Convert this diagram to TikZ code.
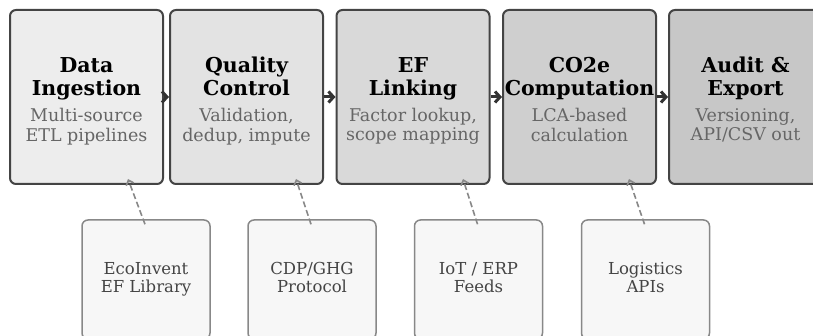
\documentclass[tikz,border=0pt]{standalone}
\usepackage{fontspec}
\setmainfont{DejaVu Serif}
\usetikzlibrary{arrows.meta}

\definecolor{edgedark}{HTML}{444444}
\definecolor{flowdark}{HTML}{333333}
\definecolor{notegray}{HTML}{666666}
\definecolor{srcedge}{HTML}{888888}
\definecolor{srcfill}{HTML}{F7F7F7}
\definecolor{srctext}{HTML}{444444}
\definecolor{feedgray}{HTML}{888888}

\begin{document}
\begin{tikzpicture}[x=1pt, y=-1pt,
    stage/.style={draw=edgedark, line width=2pt, rounded corners=6pt, minimum width=153pt, minimum height=174pt, inner sep=0pt},
    stagetitle/.style={inner sep=0pt, align=center, font=\fontsize{20.5}{23}\selectfont\bfseries},
    stagenote/.style={inner sep=0pt, align=center, text=notegray, font=\fontsize{17.5}{18}\selectfont},
    source/.style={draw=srcedge, fill=srcfill, line width=1.5pt, rounded corners=6pt, minimum width=128pt, minimum height=119pt, inner sep=0pt, align=center, text=srctext, font=\fontsize{16.5}{18}\selectfont},
    flow/.style={draw=flowdark, line width=3pt, -{Straight Barb[length=5pt, width=11pt]}},
    feed/.style={draw=feedgray, line width=1.6pt, dash pattern=on 6pt off 3pt, -{Straight Barb[length=4.5pt, width=8pt]}}]
    \useasboundingbox (0,0) rectangle (813,336);
    \clip (0,0) rectangle (813,336);

    % pipeline stages
    \node[stage, fill=black!7] (ingest) at (86.5,97) {};
    \node[stage, fill=black!11] (quality) at (246.5,97) {};
    \node[stage, fill=black!15] (linking) at (413,97) {};
    \node[stage, fill=black!19] (compute) at (579.5,97) {};
    \node[stage, fill=black!22] (export) at (745.5,97) {};

    \node[stagetitle] (ingestT) at ([yshift=18pt]ingest.center) {\strut Data\\\strut Ingestion};
    \node[stagetitle] (qualityT) at ([yshift=18pt]quality.center) {\strut Quality\\\strut Control};
    \node[stagetitle] (linkingT) at ([yshift=18pt]linking.center) {\strut EF\\\strut Linking};
    \node[stagetitle] (computeT) at ([yshift=18pt]compute.center) {\strut CO2e\\\strut Computation};
    \node[stagetitle] (exportT) at ([yshift=18pt]export.center) {\strut Audit \&\\\strut Export};

    \node[stagenote] (ingestN) at ([yshift=-30.4pt]ingest.center) {\strut Multi-source\\\strut ETL pipelines};
    \node[stagenote] (qualityN) at ([yshift=-30.4pt]quality.center) {\strut Validation,\\\strut dedup, impute};
    \node[stagenote] (linkingN) at ([yshift=-30.4pt]linking.center) {\strut Factor lookup,\\\strut scope mapping};
    \node[stagenote] (computeN) at ([yshift=-30.4pt]compute.center) {\strut LCA-based\\\strut calculation};
    \node[stagenote] (exportN) at ([yshift=-30.4pt]export.center) {\strut Versioning,\\\strut API/CSV out};

    \draw[flow] (ingest) -- (quality);
    \draw[flow] (quality) -- (linking);
    \draw[flow] (linking) -- (compute);
    \draw[flow] (compute) -- (export);

    % external data sources
    \node[source] (ecoinvent) at (146,279.5) {\strut EcoInvent\\\strut EF Library};
    \node[source] (ghg) at (312,279.5) {\strut CDP/GHG\\\strut Protocol};
    \node[source] (erp) at (478.5,279.5) {\strut IoT / ERP\\\strut Feeds};
    \node[source] (logistics) at (645.5,279.5) {\strut Logistics\\\strut APIs};

    \draw[feed] ([xshift=-1pt, yshift=-5pt]ecoinvent.north) -- ([xshift=41.5pt, yshift=6pt]ingest.south);
    \draw[feed] ([xshift=-1pt, yshift=-5pt]ghg.north) -- ([xshift=49.5pt, yshift=6pt]quality.south);
    \draw[feed] ([xshift=-1pt, yshift=-5pt]erp.north) -- ([xshift=50pt, yshift=6pt]linking.south);
    \draw[feed] ([xshift=-1pt, yshift=-5pt]logistics.north) -- ([xshift=49.5pt, yshift=6pt]compute.south);
\end{tikzpicture}
\end{document}
